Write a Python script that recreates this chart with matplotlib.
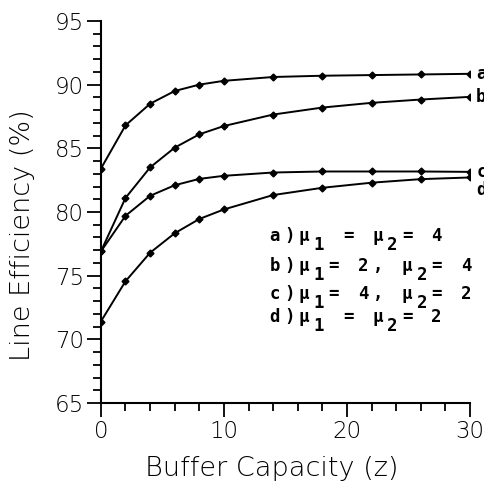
import matplotlib
matplotlib.use('Agg')
import matplotlib.pyplot as plt

# buffer capacity z and line efficiency (%) for the four cases
z = [0, 2, 4, 6, 8, 10, 14, 18, 22, 26, 30]
eff_a = [83.4, 86.8, 88.5, 89.5, 90.0, 90.3, 90.6, 90.7, 90.75, 90.8, 90.85]
eff_b = [76.9, 81.1, 83.5, 85.05, 86.1, 86.75, 87.65, 88.2, 88.57, 88.83, 89.04]
eff_c = [76.9, 79.7, 81.27, 82.1, 82.6, 82.84, 83.1, 83.18, 83.18, 83.18, 83.15]
eff_d = [71.4, 74.56, 76.8, 78.33, 79.45, 80.2, 81.33, 81.9, 82.3, 82.58, 82.71]
curve_tags = ['a', 'b', 'c', 'd']
# '_' marks the next character as a subscript
legend_rows = ['a)\u03bc_1 = \u03bc_2= 4',
               'b)\u03bc_1= 2, \u03bc_2= 4',
               'c)\u03bc_1= 4, \u03bc_2= 2',
               'd)\u03bc_1 = \u03bc_2= 2']

plt.rcParams['font.family'] = ['DejaVu Sans']

fig = plt.figure(figsize=(4.85, 4.83), dpi=100)
ax = fig.add_axes([0.208, 0.1656, 0.761, 0.791])

mono = dict(fontsize=12.5, fontweight='bold', family='DejaVu Sans Mono')

# curve tags sit at the right edge, partly cut off as in the original scan
tag_shift = [0, 0, 0, -9]
for eff, tag, dy in zip([eff_a, eff_b, eff_c, eff_d], curve_tags, tag_shift):
    ax.plot(z, eff, color='black', linewidth=1.4, marker='D', markersize=3.5)
    ax.annotate(tag, (z[-1], eff[-1]), xytext=(4.5, dy), textcoords='offset points',
                va='center', ha='left', annotation_clip=False, **mono)

ax.set_xlim(0, 30)
ax.set_ylim(65, 95)
ax.spines['top'].set_visible(False)
ax.spines['right'].set_visible(False)
ax.spines['left'].set_linewidth(1.5)
ax.spines['bottom'].set_linewidth(1.5)
ax.set_xticks([0, 10, 20, 30])
ax.set_xticks(range(0, 31, 2), minor=True)
ax.set_yticks([65, 70, 75, 80, 85, 90, 95])
ax.set_yticks(range(65, 96), minor=True)
ax.tick_params(which='major', length=10, width=1.3, labelsize=16.5, pad=2)
ax.tick_params(which='minor', length=5.5, width=1.3)
for lab in ax.get_xticklabels() + ax.get_yticklabels():
    lab.set_fontweight('light')

ax.set_xlabel('Buffer Capacity (z)', fontsize=19.5, fontweight='light')
ax.set_ylabel('Line Efficiency (%)', fontsize=19.5, fontweight='light')
ax.xaxis.set_label_coords(0.463, -0.138)
ax.yaxis.set_label_coords(-0.178, 0.44)

# legend text: typewriter grid with wide pitch
pitch = 10.6
row_y = [78.1, 75.75, 73.55, 71.75]
for row, y in zip(legend_rows, row_y):
    col = 0
    sub = False
    for ch in row:
        if ch == '_':
            sub = True
            continue
        if ch != ' ':
            ax.annotate(ch, (13.7, y), xytext=(col * pitch, -6.5 if sub else 0),
                        textcoords='offset points', va='center', ha='left', **mono)
        sub = False
        col += 1

fig.savefig('out.png', dpi=100)
